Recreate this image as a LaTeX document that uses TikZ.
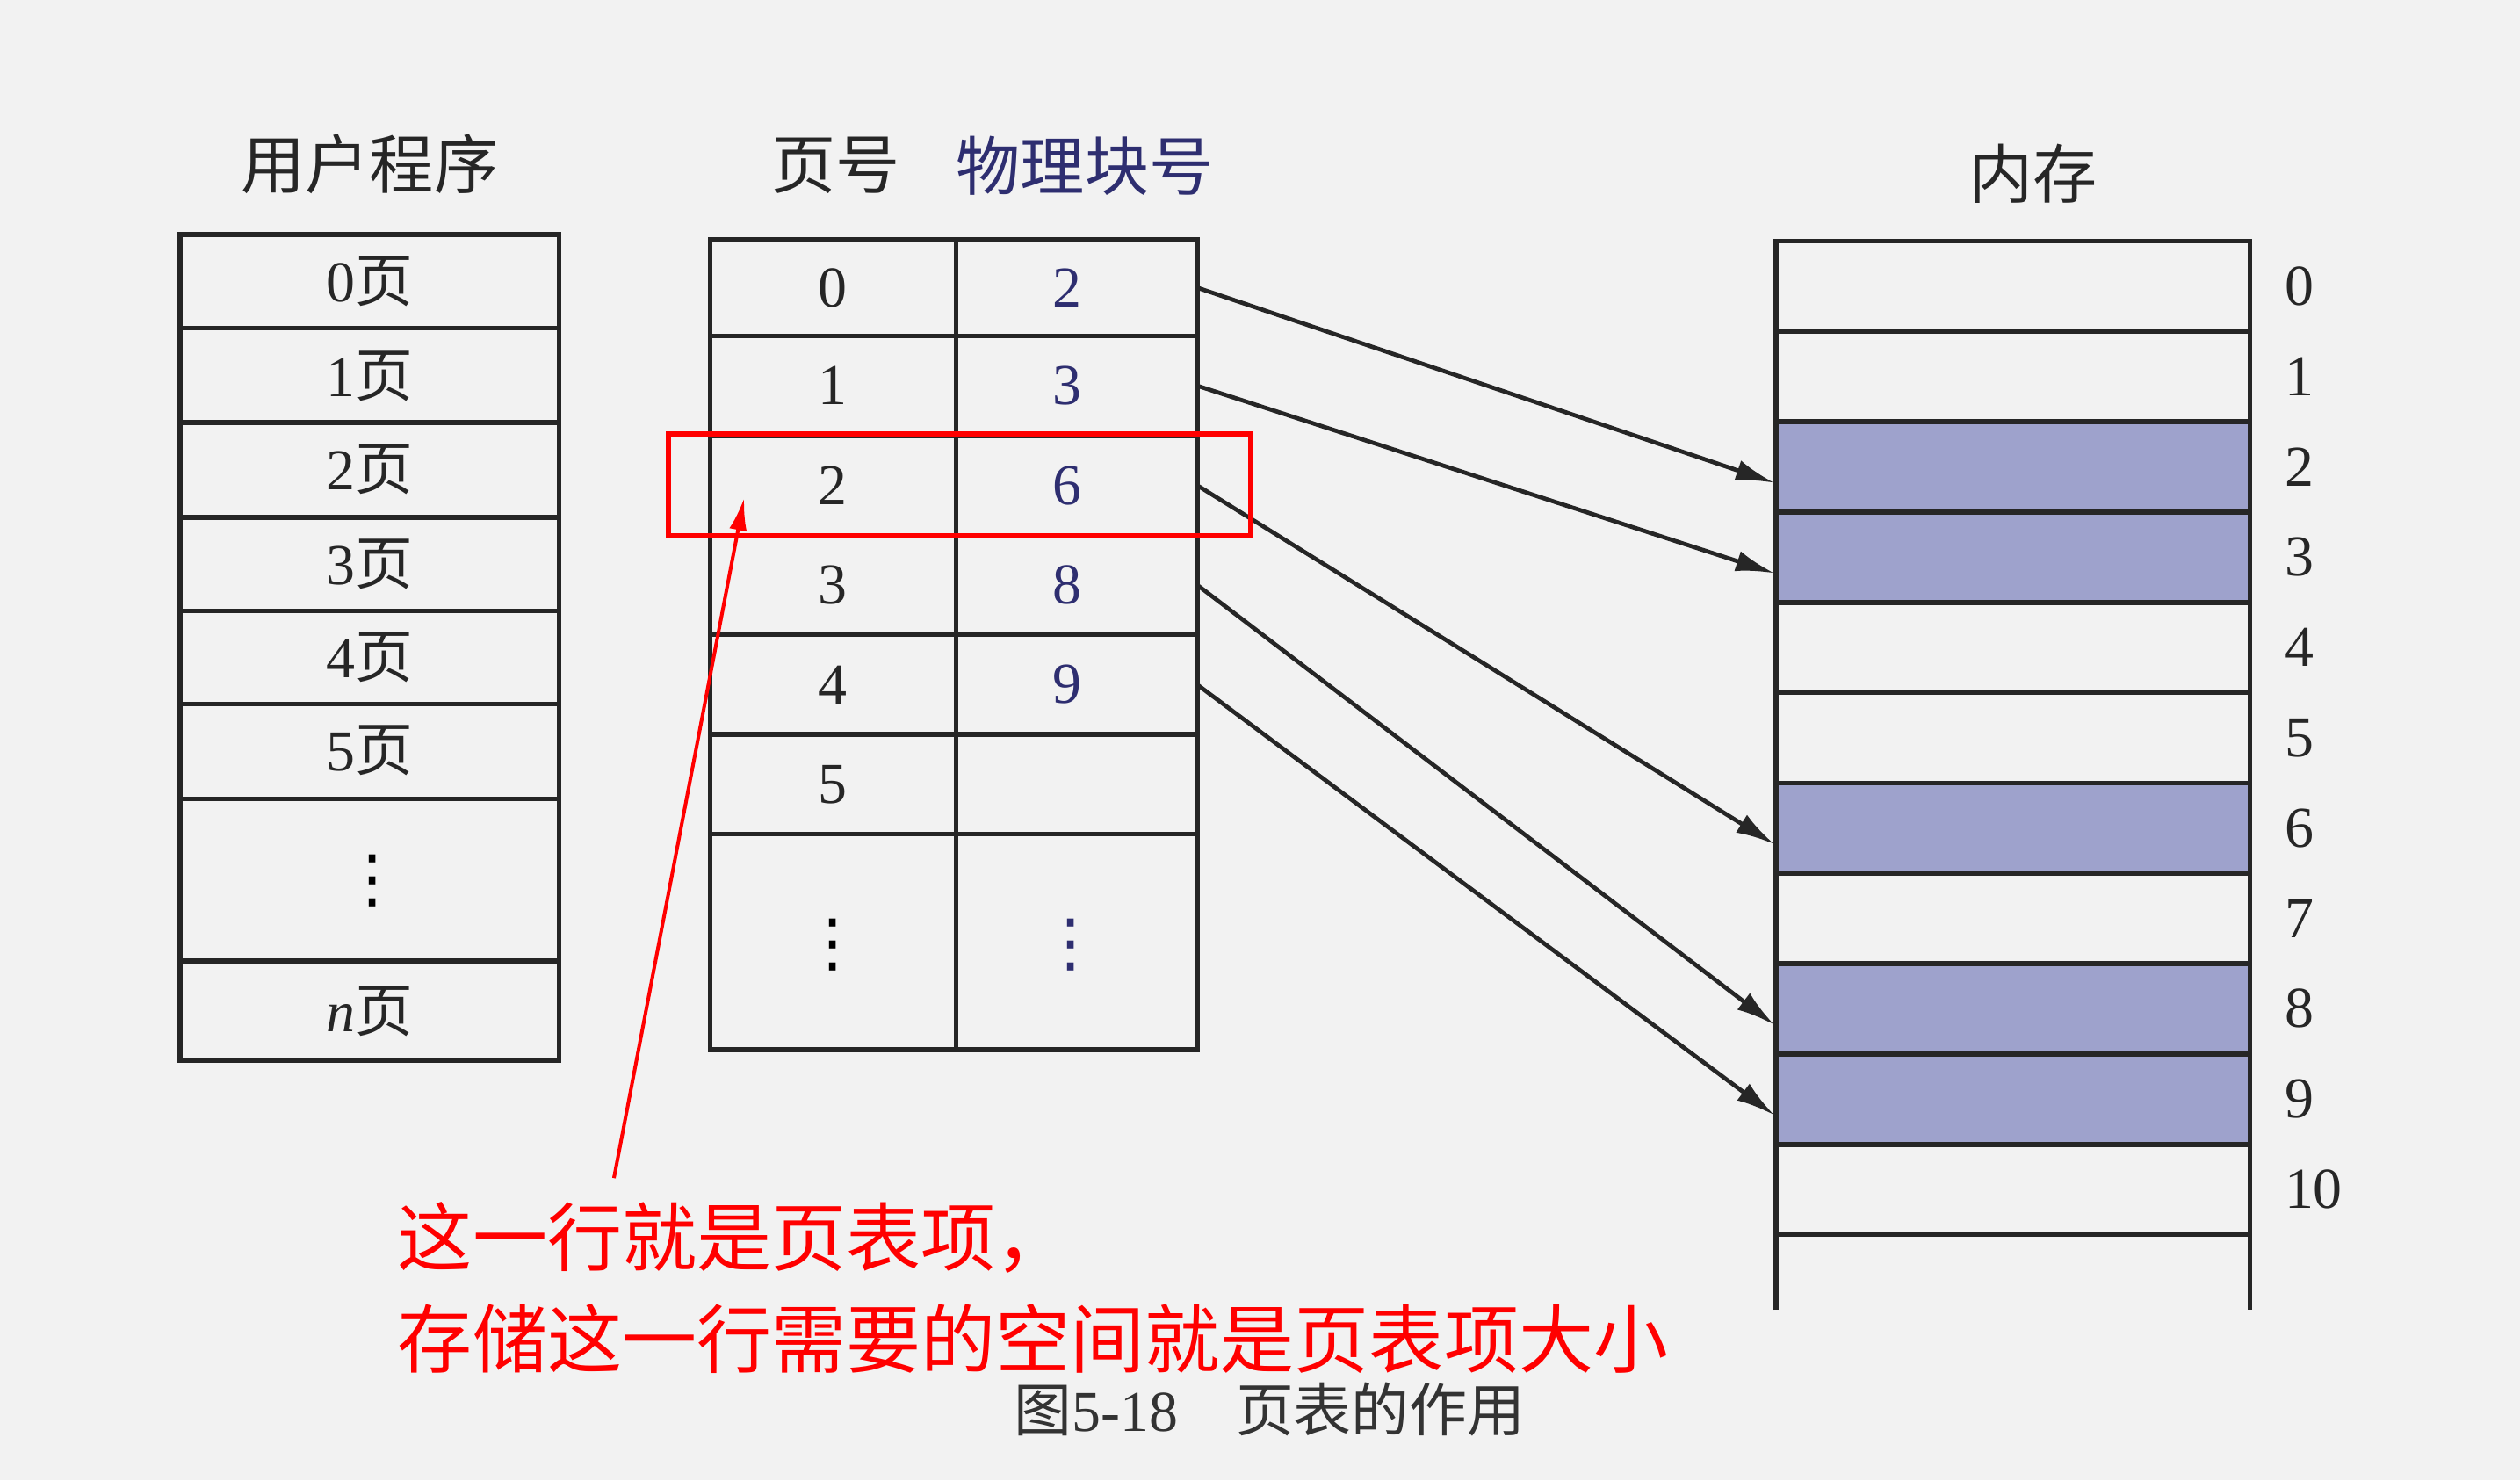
\documentclass[tikz,border=0pt]{standalone}
\usepackage{fontspec}
\setmainfont{Liberation Serif}
\newfontfamily\cjk{Noto Sans CJK SC}
\newfontfamily\djv{DejaVu Sans}
\usetikzlibrary{arrows.meta}
\definecolor{memfill}{HTML}{9EA2CC}
\definecolor{dblue}{HTML}{2E2E70}
\begin{document}
\begin{tikzpicture}[x=1pt,y=-1pt,
  cell/.style={draw=black!85,line width=3pt},
  lbl/.style={font=\fontsize{36}{38}\selectfont,text=black!85},
  blu/.style={font=\fontsize{36}{38}\selectfont,text=dblue},
  vd/.style={font=\djv\fontsize{40}{42}\selectfont},
  hd/.style={font=\cjk\fontsize{40}{44}\selectfont,text=black!85},
  arr/.style={draw=black!85,line width=2.6pt,-{Latex[length=24pt,width=13pt]}}]
\fill[black!5] (0,0) rectangle (1568,921);
\useasboundingbox (0,0) rectangle (1568,921);
% user program
\node[hd] (h1) at (230,102) {用户程序};
\foreach \a/\b in {146/204,204/263,263/322,322/380,380/438,438/497,497/598,598/660}
  \draw[cell] (112,\a) rectangle (348,\b);
\foreach \t/\y [count=\i] in {0/175,1/234,2/292,3/351,4/409,5/467}
  \node[lbl] (u\i) at (230,\y) {\t{\cjk 页}};
\node[vd] (udots) at (232,548) {⋮};
\node[lbl] (un) at (230,629) {\textit{n}{\cjk 页}};
% page table
\node[hd] (h2) at (520,103) {页号};
\node[hd,text=dblue] (h3) at (675,103) {物理块号};
\foreach \a/\b in {149/209,209/271,271/333,333/395,395/457,457/519,519/653}{
  \draw[cell] (442,\a) rectangle (595,\b);
  \draw[cell] (595,\a) rectangle (745,\b);}
\foreach \t/\y [count=\i] in {0/179,1/240,2/302,3/364,4/426,5/488}
  \node[lbl] (p\i) at (518,\y) {\t};
\node[vd] (pd) at (518,588) {⋮};
\foreach \t/\y [count=\i] in {2/179,3/240,6/302,8/364,9/426}
  \coordinate (f\i) at (745,\y);
\foreach \t/\y [count=\i] in {2/179,3/240,6/302,8/364,9/426}
  \node[blu] (b\i) at (664,\y) {\t};
\node[vd,text=dblue] (bd) at (666,588) {⋮};
% memory
\node[hd] (h4) at (1265,108) {内存};
\foreach \k in {2,3,6,8,9}
  \fill[memfill] (1105,{150+\k*56.2}) rectangle (1400,{150+(\k+1)*56.2});
\draw[cell] (1105,815) -- (1105,150) -- (1400,150) -- (1400,815);
\foreach \k in {1,...,11}
  \draw[cell] (1105,{150+\k*56.2}) -- (1400,{150+\k*56.2});
\foreach \k in {0,...,10}
  \node[lbl,anchor=west] (m\k) at (1418,{178+\k*56.2}) {\k};
\foreach \k/\i in {2/1,3/2,6/3,8/4,9/5}
  \coordinate (t\i) at (1104,{178+\k*56.2+10});
\foreach \i in {1,...,5} \draw[arr] (f\i) -- (t\i);
% red annotation
\draw[red,line width=3pt] (416,270) rectangle (778,333);
\node[font=\cjk\fontsize{46.5}{52}\selectfont,text=red,anchor=west] (r1) at (244,770) {这一行就是页表项，};
\node[font=\cjk\fontsize{46.5}{52}\selectfont,text=red,anchor=west] (r2) at (244,833) {存储这一行需要的空间就是页表项大小};
\coordinate (rs) at (382,733);
\coordinate (re) at (463,310);
\draw[red,line width=2.2pt,-{Latex[length=20pt,width=11pt]}] (rs) -- (re);
\node[font=\fontsize{36}{38}\selectfont,text=black!80] (cap) at (790,877) {{\cjk 图}5-18\quad{\cjk 页表的作用}};
\end{tikzpicture}
\end{document}
